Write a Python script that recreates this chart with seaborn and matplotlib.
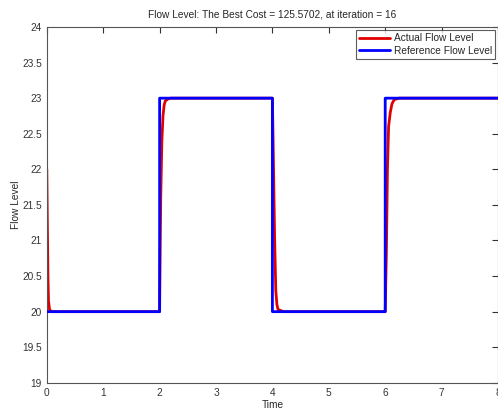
import pandas as pd
import numpy as np
import seaborn as sns
import matplotlib.pyplot as plt
from matplotlib.colors import to_hex

# reference square wave
ref_t = [0, 2, 2, 4, 4, 6, 6, 8]
ref_y = [20, 20, 23, 23, 20, 20, 23, 23]

# actual flow level
act_t = [0, 0.01, 0.02, 0.03, 0.05, 0.1,
         2.0, 2.02, 2.04, 2.06, 2.08, 2.1, 2.15, 2.2,
         4.0, 4.02, 4.04, 4.06, 4.08, 4.1, 4.2,
         6.0, 6.02, 6.04, 6.06, 6.09, 6.12, 6.16, 6.25, 8.0]
act_y = [22, 21.2, 20.5, 20.15, 20.02, 20.0,
         20.0, 21.6, 22.4, 22.75, 22.9, 22.96, 22.99, 23.0,
         23.0, 22.0, 21.0, 20.3, 20.1, 20.03, 20.0,
         20.0, 20.8, 22.0, 22.6, 22.8, 22.92, 22.98, 23.0, 23.0]

df = pd.concat([
    pd.DataFrame({'Time': act_t, 'Level': act_y, 'Series': 'Actual Flow Level'}),
    pd.DataFrame({'Time': ref_t, 'Level': ref_y, 'Series': 'Reference Flow Level'}),
])

sns.set_style("white")
plt.rcParams['font.family'] = ['Liberation Sans', 'DejaVu Sans']
fs = 7.3

fig = plt.figure(figsize=(4.98, 4.09), dpi=100)
ax = fig.add_axes([0.094, 0.064, 0.906, 0.87])

sns.lineplot(data=df, x='Time', y='Level', hue='Series', sort=False,
             palette=['#e00000', '#0000ff'], linewidth=2, ax=ax, estimator=None)

# reference line on top of the actual one, no pixel snapping so they overlap
for ln in ax.lines:
    ln.set_snap(False)
    if to_hex(ln.get_color()) == '#0000ff':
        ln.set_zorder(3)

ax.set_xlim(0, 8)
ax.set_ylim(19, 24)
ax.set_xticks(range(0, 9))
ax.set_yticks(np.arange(19, 24.01, 0.5))
ax.set_yticklabels(['19', '19.5', '20', '20.5', '21', '21.5', '22', '22.5', '23', '23.5', '24'])
ax.tick_params(direction='in', length=4, top=True, right=True, labelsize=fs,
               colors='#333333', width=0.8)
for s in ax.spines.values():
    s.set_color('#555555')
    s.set_linewidth(0.8)

ax.set_xlabel('Time', fontsize=fs, labelpad=2)
ax.set_ylabel('Flow Level', fontsize=fs, labelpad=1)
ax.set_title('Flow Level: The Best Cost = 125.5702, at iteration = 16', fontsize=fs, pad=7)

leg = ax.legend(loc='upper right', fontsize=fs, frameon=True, fancybox=False,
                handlelength=3, handletextpad=0.4, borderpad=0.35,
                labelspacing=0.25, borderaxespad=0.25)
leg.get_frame().set_edgecolor('#333333')
leg.get_frame().set_linewidth(0.8)
leg.set_zorder(5)

fig.savefig('out.png', dpi=100)
